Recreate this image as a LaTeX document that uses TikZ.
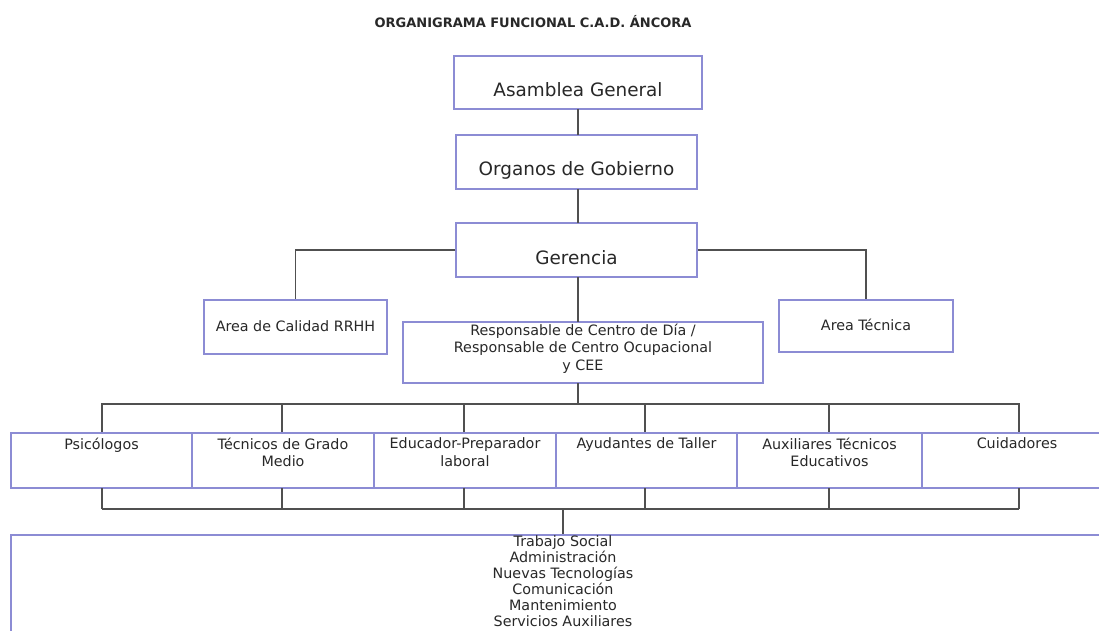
\documentclass[tikz,border=0pt]{standalone}
\usepackage{fontspec}
\setmainfont{DejaVu Sans}
\definecolor{boxc}{RGB}{140,140,212}
\definecolor{linec}{RGB}{80,80,80}
\definecolor{txtc}{RGB}{40,40,40}
\tikzset{
  box/.style={draw=boxc, line width=1.1pt, fill=white, inner sep=0pt, rectangle},
  conn/.style={draw=linec, line width=1.1pt},
  big/.style={font=\fontsize{18.4}{21}\selectfont, text=txtc, inner sep=0pt},
  small/.style={font=\fontsize{14.3}{17.5}\selectfont, text=txtc, inner sep=0pt, align=center},
  list/.style={font=\fontsize{14.3}{16}\selectfont, text=txtc, inner sep=0pt, align=center},
  ttl/.style={font=\bfseries\fontsize{13}{15}\selectfont, text=txtc, inner sep=0pt}
}
\begin{document}
\begin{tikzpicture}[x=1pt,y=-1pt]
\clip (0,0) rectangle (1099,630);
\fill[white] (0,0) rectangle (1099,630);

\node[ttl] (title) at (533,22) {ORGANIGRAMA FUNCIONAL C.A.D. ÁNCORA};

% top chain
\node[box, minimum width=248pt, minimum height=53pt] (asam) at (578,82.5) {};
\node[big] (asamt) at (578,90) {Asamblea General};
\node[box, minimum width=241pt, minimum height=54pt] (org) at (576.5,162) {};
\node[big] (orgt) at (576.5,170) {Organos de Gobierno};
\node[box, minimum width=241pt, minimum height=54pt] (ger) at (576.5,250) {};
\node[big] (gert) at (576.5,258) {Gerencia};

\node[box, minimum width=183pt, minimum height=54pt] (cal) at (295.5,327) {};
\node[small] (calt) at (295.5,326) {Area de Calidad RRHH};
\node[box, minimum width=174pt, minimum height=52pt] (tec) at (866,326) {};
\node[small] (tect) at (866,325) {Area Técnica};
\node[box, minimum width=360pt, minimum height=61pt] (resp) at (583,352.5) {};
\node[small, anchor=north] (respt) at (583,323.5) {Responsable de Centro de Día /\\Responsable de Centro Ocupacional\\y CEE};

\draw[conn] (578,109) -- (578,135);
\draw[conn] (578,189) -- (578,223);
\draw[conn] (ger.west) -| (cal.north);
\draw[conn] (ger.east) -| (tec.north);
\draw[conn] (578,277) -- (578,322);

% row of six
\coordinate (bus1) at (578,404);
\draw[conn] (578,383) -- (bus1);
\draw[conn] (102,433) -- (102,404) -- (1019,404) -- (1019,433);
\foreach \x in {282,464,645,829} \draw[conn] (\x,404) -- (\x,433);

\node[box, minimum width=181pt, minimum height=55pt] (psi) at (101.5,460.5) {};
\node[box, minimum width=182pt, minimum height=55pt] (tgm) at (283,460.5) {};
\node[box, minimum width=182pt, minimum height=55pt] (edu) at (465,460.5) {};
\node[box, minimum width=181pt, minimum height=55pt] (ayu) at (646.5,460.5) {};
\node[box, minimum width=185pt, minimum height=55pt] (aux) at (829.5,460.5) {};
\node[box, minimum width=194pt, minimum height=55pt] (cui) at (1019,460.5) {};

\node[small, anchor=north] (psit) at (101.5,437.5) {Psicólogos};
\node[small, anchor=north] (tgmt) at (283,437.5) {Técnicos de Grado\\Medio};
\node[small, anchor=north] (edut) at (465,437.5) {Educador-Preparador\\laboral};
\node[small, anchor=north] (ayut) at (646.5,437.5) {Ayudantes de Taller};
\node[small, anchor=north] (auxt) at (829.5,437.5) {Auxiliares Técnicos\\Educativos};
\node[small, anchor=north] (cuit) at (1017,437.5) {Cuidadores};

\foreach \x in {102,282,464,645,829,1019} \draw[conn] (\x,488) -- (\x,509);
\draw[conn] (102,509) -- (1019,509);
\draw[conn] (563,509) -- (563,535);

\node[box, minimum width=1104pt, minimum height=110pt] (serv) at (563,590) {};
\node[list, anchor=north] (servt) at (563,535.5) {Trabajo Social\\Administración\\Nuevas Tecnologías\\Comunicación\\Mantenimiento\\Servicios Auxiliares};
\end{tikzpicture}
\end{document}
